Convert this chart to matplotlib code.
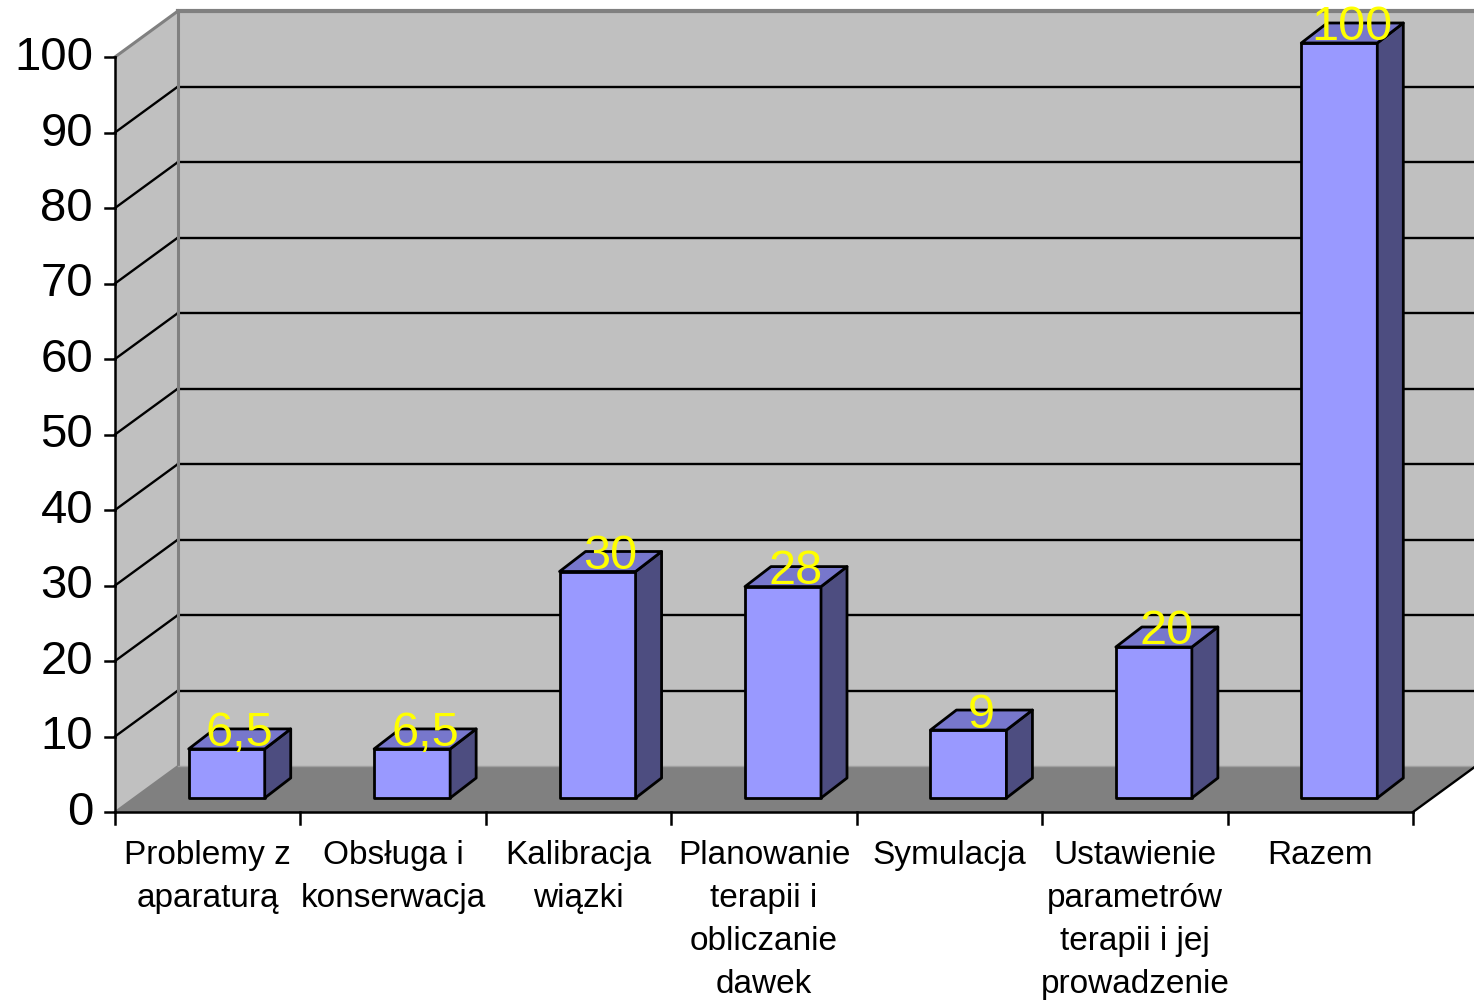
import matplotlib.pyplot as plt
from matplotlib.patches import Polygon

plt.rcParams['font.family'] = ['Liberation Sans', 'DejaVu Sans']

## data
categories = ["Problemy z\naparaturą", "Obsługa i\nkonserwacja", "Kalibracja\nwiązki",
              "Planowanie\nterapii i\nobliczanie\ndawek", "Symulacja",
              "Ustawienie\nparametrów\nterapii i jej\nprowadzenie", "Razem"]
values = [6.5, 6.5, 30, 28, 9, 20, 100]
labels = ["6,5", "6,5", "30", "28", "9", "20", "100"]
yticks = [0, 10, 20, 30, 40, 50, 60, 70, 80, 90, 100]

W, H = 1474, 1004
PX_X = 185.43   # pixels per category
PX_Y = 7.55     # pixels per value unit
X0, Y0 = 115, 813  # pixel position of the front origin

def px(dx, dy):
    # pixel offsets -> data offsets (dy positive = up)
    return dx / PX_X, dy / PX_Y

n = len(values)
ymax = 100
DX, DY = px(63, 46)          # depth of the back wall
BFX, BFY = px(19, 14)        # bar front offset from front plane
BDX, BDY = px(26, 20)        # bar depth
BW = 76 / PX_X               # bar width

fig = plt.figure(figsize=(W / 100, H / 100), dpi=100)
ax = fig.add_axes([0, 0, 1, 1])
ax.set_xlim(-X0 / PX_X, (W - X0) / PX_X)
ax.set_ylim(-(H - Y0) / PX_Y, Y0 / PX_Y)
ax.axis('off')

wall = '#C0C0C0'
floor = '#808080'
edge_gray = '#808080'

# back wall
ax.add_patch(Polygon([(DX, DY), (n + DX + 1, DY), (n + DX + 1, DY + ymax), (DX, DY + ymax)],
                     closed=True, facecolor=wall, edgecolor='none', zorder=1))
# left side wall
ax.add_patch(Polygon([(0, 0), (DX, DY), (DX, DY + ymax), (0, ymax)],
                     closed=True, facecolor=wall, edgecolor='none', zorder=1))
# floor
ax.add_patch(Polygon([(0, 0), (n, 0), (n + DX, DY), (DX, DY)],
                     closed=True, facecolor=floor, edgecolor='none', zorder=1))

# gridlines on back wall and side wall
for t in yticks[1:-1]:
    ax.plot([DX, n + DX + 1], [DY + t, DY + t], color='black', lw=1.7, zorder=2)
    ax.plot([0, DX], [t, DY + t], color='black', lw=1.7, zorder=2)
ax.plot([DX, n + DX + 1], [DY + ymax, DY + ymax], color=edge_gray, lw=3, zorder=2)
ax.plot([0, DX], [ymax, DY + ymax], color=edge_gray, lw=2.2, zorder=2)
ax.plot([DX, DX], [DY, DY + ymax], color=edge_gray, lw=2.2, zorder=2)
ax.plot([0, DX], [0, DY], color=edge_gray, lw=1.5, zorder=2)
ax.plot([DX, n + DX], [DY, DY], color='#A0A0A0', lw=1, zorder=2)
ax.plot([n, n + DX], [0, DY], color='black', lw=1.7, zorder=2)

# axes lines and ticks
ax.plot([0, 0], [0, ymax], color='black', lw=1.8, zorder=3)
ax.plot([0, n], [0, 0], color='black', lw=1.8, zorder=3)
tlx, _ = px(10, 0)
_, tly = px(0, 12)
for t in yticks:
    ax.plot([-tlx, 0], [t, t], color='black', lw=1.8, zorder=3)
    ax.text(-22 / PX_X, t, str(t), ha='right', va='center', fontsize=34, zorder=3)
for i in range(n + 1):
    ax.plot([i, i], [0, -tly], color='black', lw=1.8, zorder=3)
for i, c in enumerate(categories):
    ax.text(i + 0.5, -27 / PX_Y, c, ha='center', va='top', fontsize=24,
            linespacing=1.5, zorder=3)

# 3d bars
front = '#9999FF'
side = '#4D4D80'
top = '#7777CC'
for i, v in enumerate(values):
    x0 = i + 0.5 - BW / 2 + BFX
    x1 = x0 + BW
    y0 = BFY
    y1 = BFY + v
    kw = dict(closed=True, edgecolor='black', lw=2, joinstyle='round', zorder=5)
    ax.add_patch(Polygon([(x0, y0), (x1, y0), (x1, y1), (x0, y1)], facecolor=front, **kw))
    ax.add_patch(Polygon([(x1, y0), (x1 + BDX, y0 + BDY), (x1 + BDX, y1 + BDY), (x1, y1)],
                         facecolor=side, **kw))
    ax.add_patch(Polygon([(x0, y1), (x1, y1), (x1 + BDX, y1 + BDY), (x0 + BDX, y1 + BDY)],
                         facecolor=top, **kw))
    ax.text((x0 + x1) / 2 + 13 / PX_X, y1 + 16 / PX_Y, labels[i], ha='center', va='center',
            fontsize=35, color='#FFFF00', zorder=6)

plt.savefig('out.png', dpi=100)
